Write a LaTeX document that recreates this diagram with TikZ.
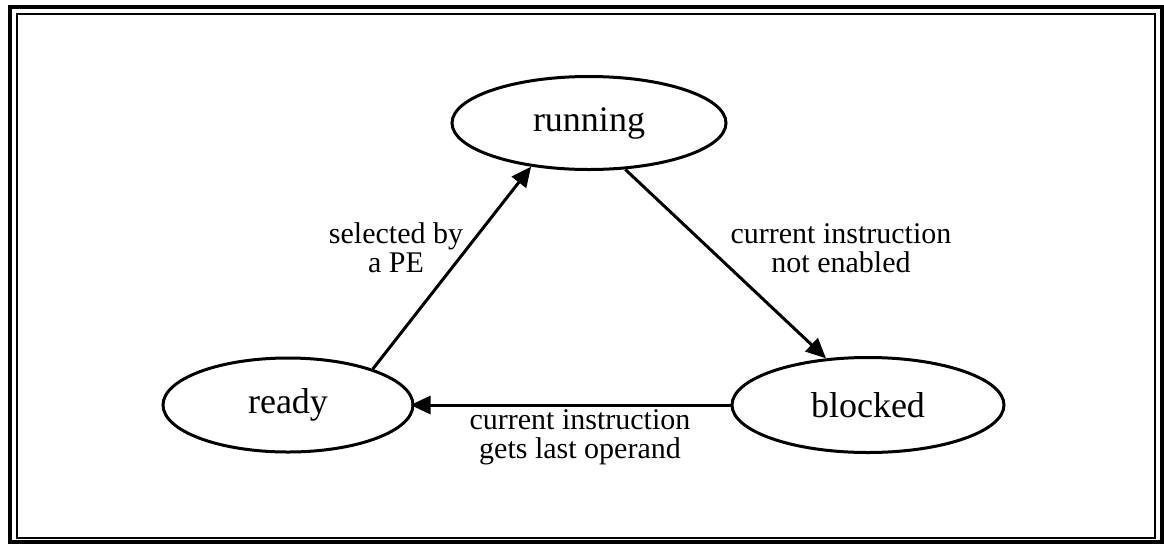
\documentclass[tikz,border=0pt]{standalone}
\usepackage{fontspec}
\setmainfont{Liberation Serif}
\usetikzlibrary{arrows.meta,shapes.geometric}

\begin{document}
\begin{tikzpicture}[x=0.5pt, y=-0.5pt,
		state/.style={ellipse, draw, line width=1.5pt, inner sep=0pt, font=\fontsize{18}{20}\selectfont},
		trans/.style={line width=1.5pt, -{Triangle[length=10pt,width=9pt]}},
		lbl/.style={align=center, inner sep=0pt, font=\fontsize{15}{14.5}\selectfont}]
			%%%%% START %%%%%
			
			\useasboundingbox (0, 0) rectangle (1164, 553);
			
			% double frame
			\draw[line width=1.6pt] (10, 7) rectangle (1162, 542);
			\draw[line width=0.8pt] (17, 14) rectangle (1155, 538);
			
			\node[state, minimum width=137pt, minimum height=46.5pt] (running) at (589, 123) {running};
			\node[state, minimum width=125pt, minimum height=47pt] (ready) at (288, 405) {ready};
			\node[state, minimum width=136pt, minimum height=47.5pt] (blocked) at (868, 405) {blocked};
			
			\draw[trans] (ready.23) -- (running.-143);
			\draw[trans] (running.-52) -- (blocked.132);
			\draw[trans] (blocked.west) -- ([xshift=-2pt]ready.east);
			
			\node[lbl] (sel) at (396, 248) {selected by\\a PE};
			\node[lbl] (notenabled) at (841, 248) {current instruction\\not enabled};
			\node[lbl] (lastop) at (580, 437) {current instruction\\gets last operand};
			
			%%%%% END %%%%%
\end{tikzpicture}
\end{document}
